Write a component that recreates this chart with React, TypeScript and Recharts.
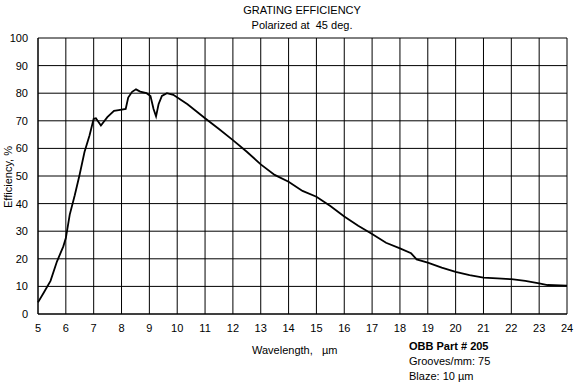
import { CartesianGrid, Line, LineChart, XAxis, YAxis } from 'recharts'

const wavelength = [
  5, 5.21, 5.45, 5.68, 5.91, 6, 6.14, 6.32, 6.49, 6.67, 6.85, 7, 7.08, 7.26, 7.49, 7.73, 7.9,
  8.15, 8.24, 8.38, 8.52, 8.67, 8.9, 9.04, 9.15, 9.24, 9.33, 9.45, 9.63, 9.86, 10.1, 10.37,
  11, 11.5, 12, 12.5, 13, 13.5, 14, 14.5, 15, 15.5, 16, 16.5, 17, 17.5, 18, 18.4, 18.6, 19,
  19.5, 20, 20.5, 21, 21.5, 22, 22.5, 23, 23.3, 24,
]
const efficiency = [
  4.2, 7.8, 12, 19, 24.5, 27.5, 36, 43, 50.3, 58.7, 64.7, 70.7, 70.9, 68.3, 71.3, 73.6, 73.9,
  74.3, 78.4, 80.5, 81.4, 80.6, 80, 79, 74.3, 71.6, 76, 79, 80, 79.4, 77.8, 76,
  70.9, 67, 63, 58.8, 54.2, 50.4, 47.9, 44.6, 42.5, 39.1, 35.3, 32, 29, 25.8, 23.8, 22, 19.8, 18.6,
  16.8, 15.3, 14.1, 13.2, 12.9, 12.6, 12, 11.1, 10.5, 10.3,
]
const xTicks = [5, 6, 7, 8, 9, 10, 11, 12, 13, 14, 15, 16, 17, 18, 19, 20, 21, 22, 23, 24]
const yTicks = [0, 10, 20, 30, 40, 50, 60, 70, 80, 90, 100]

const data = wavelength.map((w, i) => ({ w, eff: efficiency[i] }))

const FONT = '"Liberation Sans", Arial, sans-serif'
const tickStyle = { fontSize: 11, fill: '#000', fontFamily: FONT }

export default function App() {
  return (
    <div style={{ position: 'absolute', left: 0, top: 0, width: 576, height: 384, background: '#fff', fontFamily: FONT, color: '#000' }}>
      <div style={{ position: 'absolute', left: 0, width: 604, top: 3, textAlign: 'center', fontSize: 11, lineHeight: '15px' }}>
        GRATING EFFICIENCY
        <br />
        Polarized at&nbsp; 45 deg.
      </div>
      <LineChart width={576} height={384} data={data} margin={{ top: 38, right: 9, left: 0, bottom: 50 }}>
        <CartesianGrid stroke='#000' strokeWidth={1} strokeOpacity={1} verticalValues={xTicks} horizontalValues={yTicks} />
        <XAxis
          dataKey='w'
          type='number'
          domain={[5, 24]}
          ticks={xTicks}
          interval={0}
          stroke='#000'
          tickLine={false}
          tick={tickStyle}
          tickMargin={4}
          height={20}
        />
        <YAxis
          type='number'
          domain={[0, 100]}
          ticks={yTicks}
          interval={0}
          stroke='#000'
          tickLine={false}
          tick={tickStyle}
          tickMargin={4}
          width={38}
        />
        <Line
          type='linear'
          dataKey='eff'
          stroke='#000'
          strokeWidth={1.8}
          dot={false}
          isAnimationActive={false}
        />
      </LineChart>
      <div style={{ position: 'absolute', left: 0, top: 169, width: 16, height: 16 }}>
        <div style={{ position: 'absolute', left: 8, top: 8, transform: 'translate(-50%, -50%) rotate(-90deg)', whiteSpace: 'nowrap', fontSize: 11 }}>
          Efficiency, %
        </div>
      </div>
      <div style={{ position: 'absolute', left: 252, top: 344, fontSize: 11, whiteSpace: 'nowrap' }}>
        Wavelength,&nbsp;&nbsp; µm
      </div>
      <div style={{ position: 'absolute', left: 409, top: 339, fontSize: 11, lineHeight: '15px', whiteSpace: 'nowrap' }}>
        <div style={{ fontWeight: 'bold' }}>OBB Part # 205</div>
        <div>Grooves/mm: 75</div>
        <div>Blaze: 10 µm</div>
      </div>
    </div>
  )
}
